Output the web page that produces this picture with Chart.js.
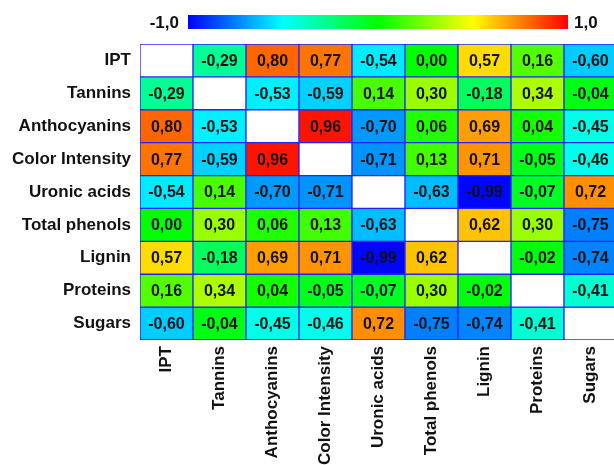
<!DOCTYPE html>
<html>
<head>
<meta charset="utf-8">
<script src="https://cdn.jsdelivr.net/npm/chart.js@4.4.1/dist/chart.umd.min.js"></script>
<style>
  html, body { margin: 0; padding: 0; background: #fff; overflow: hidden; }
  #wrap { position: relative; width: 614px; height: 465px; overflow: hidden; }
</style>
</head>
<body>
<div id="wrap"><canvas id="heat" width="617" height="465"></canvas></div>
<script>
/* Matriz de correlação — rótulos e linhas (de cima para baixo). */
const VARIABLES = ['IPT', 'Tannins', 'Anthocyanins', 'Color Intensity', 'Uronic acids',
  'Total phenols', 'Lignin', 'Proteins', 'Sugars'];

const ROW_IPT          = [null, -0.29, 0.80, 0.77, -0.54, 0.00, 0.57, 0.16, -0.60];
const ROW_TANNINS      = [-0.29, null, -0.53, -0.59, 0.14, 0.30, -0.18, 0.34, -0.04];
const ROW_ANTHOCYANINS = [0.80, -0.53, null, 0.96, -0.70, 0.06, 0.69, 0.04, -0.45];
const ROW_COLOR_INT    = [0.77, -0.59, 0.96, null, -0.71, 0.13, 0.71, -0.05, -0.46];
const ROW_URONIC       = [-0.54, 0.14, -0.70, -0.71, null, -0.63, -0.99, -0.07, 0.72];
const ROW_PHENOLS      = [0.00, 0.30, 0.06, 0.13, -0.63, null, 0.62, 0.30, -0.75];
const ROW_LIGNIN       = [0.57, -0.18, 0.69, 0.71, -0.99, 0.62, null, -0.02, -0.74];
const ROW_PROTEINS     = [0.16, 0.34, 0.04, -0.05, -0.07, 0.30, -0.02, null, -0.41];
const ROW_SUGARS       = [-0.60, -0.04, -0.45, -0.46, 0.72, -0.75, -0.74, -0.41, null];

const MATRIX = [ROW_IPT, ROW_TANNINS, ROW_ANTHOCYANINS, ROW_COLOR_INT, ROW_URONIC,
  ROW_PHENOLS, ROW_LIGNIN, ROW_PROTEINS, ROW_SUGARS];

/* Escala de cores (tipo "jet"): valor → cor. */
const COLOR_STOPS = [
  { v: -1.0, c: [0, 0, 255] },
  { v: -0.5, c: [0, 255, 255] },
  { v:  0.0, c: [0, 255, 0] },
  { v:  0.5, c: [255, 255, 0] },
  { v:  1.0, c: [255, 0, 0] },
];
const SCALE_LABELS = ['-1,0', '1,0'];

const FONT = '"Liberation Sans", Arial, sans-serif';
const GRID_BLUE = '#2323ff';

function colorFor(v) {
  if (v == null) return '#ffffff';
  for (let i = 0; i < COLOR_STOPS.length - 1; i++) {
    const a = COLOR_STOPS[i], b = COLOR_STOPS[i + 1];
    if (v <= b.v) {
      const t = (v - a.v) / (b.v - a.v);
      const c = a.c.map((x, k) => Math.round(x + (b.c[k] - x) * t));
      return `rgb(${c[0]},${c[1]},${c[2]})`;
    }
  }
  const l = COLOR_STOPS[COLOR_STOPS.length - 1].c;
  return `rgb(${l[0]},${l[1]},${l[2]})`;
}

const fmt = v => v.toFixed(2).replace('.', ',');

/* Texto dos valores no centro de cada célula. */
const cellTextPlugin = {
  id: 'cellText',
  afterDatasetsDraw(chart) {
    const { ctx } = chart;
    ctx.save();
    ctx.font = 'bold 16px ' + FONT;
    ctx.fillStyle = '#111';
    ctx.textAlign = 'center';
    ctx.textBaseline = 'middle';
    chart.data.datasets.forEach((ds, di) => {
      const meta = chart.getDatasetMeta(di);
      meta.data.forEach((el, j) => {
        const v = MATRIX[di][j];
        if (v == null) return;
        ctx.fillText(fmt(v), el.x, (el.y + el.base) / 2 + 1);
      });
    });
    ctx.restore();
  },
};

/* Barra de cores acima da matriz. */
const colorBarPlugin = {
  id: 'colorBar',
  afterDraw(chart) {
    const { ctx } = chart;
    const x0 = 188, x1 = 568, y0 = 15, h = 14;
    const g = ctx.createLinearGradient(x0, 0, x1, 0);
    COLOR_STOPS.forEach(s => g.addColorStop((s.v + 1) / 2, `rgb(${s.c.join(',')})`));
    ctx.save();
    ctx.fillStyle = g;
    ctx.fillRect(x0, y0, x1 - x0, h);
    ctx.font = 'bold 17px ' + FONT;
    ctx.fillStyle = '#111';
    ctx.textBaseline = 'middle';
    ctx.textAlign = 'right';
    ctx.fillText(SCALE_LABELS[0], x0 - 9, y0 + h / 2 + 1);
    ctx.textAlign = 'left';
    ctx.fillText(SCALE_LABELS[1], x1 + 6, y0 + h / 2 + 1);
    ctx.restore();
  },
};

const datasets = MATRIX.map((row, i) => ({
  label: VARIABLES[i],
  data: row.map(() => 1),
  backgroundColor: row.map(colorFor),
  borderColor: GRID_BLUE,
  borderWidth: 1,
  borderSkipped: false,
  barPercentage: 1,
  categoryPercentage: 1,
}));

new Chart(document.getElementById('heat').getContext('2d'), {
  type: 'bar',
  plugins: [cellTextPlugin, colorBarPlugin],
  data: { labels: VARIABLES, datasets },
  options: {
    responsive: false,
    animation: false,
    layout: { padding: { top: 44, left: 0, right: 0, bottom: 0 } },
    scales: {
      x: {
        stacked: true,
        grid: { display: false, drawTicks: false },
        border: { display: false },
        afterFit: s => { s.height = 125; },
        ticks: {
          minRotation: 90, maxRotation: 90, autoSkip: false, padding: 6,
          color: '#111', font: { size: 17, weight: 'bold', family: FONT },
        },
      },
      y: {
        stacked: true,
        reverse: true,
        min: 0, max: VARIABLES.length,
        grid: { display: false, drawTicks: false },
        border: { display: false },
        afterFit: s => { s.width = 140; },
        afterBuildTicks: s => { s.ticks = VARIABLES.map((_, i) => ({ value: i + 0.5 })); },
        ticks: {
          padding: 9, autoSkip: false,
          callback: (v, i) => VARIABLES[i],
          color: '#111', font: { size: 17, weight: 'bold', family: FONT },
        },
      },
    },
    plugins: {
      legend: { display: false },
      tooltip: { enabled: false },
    },
  },
});
</script>
</body>
</html>
